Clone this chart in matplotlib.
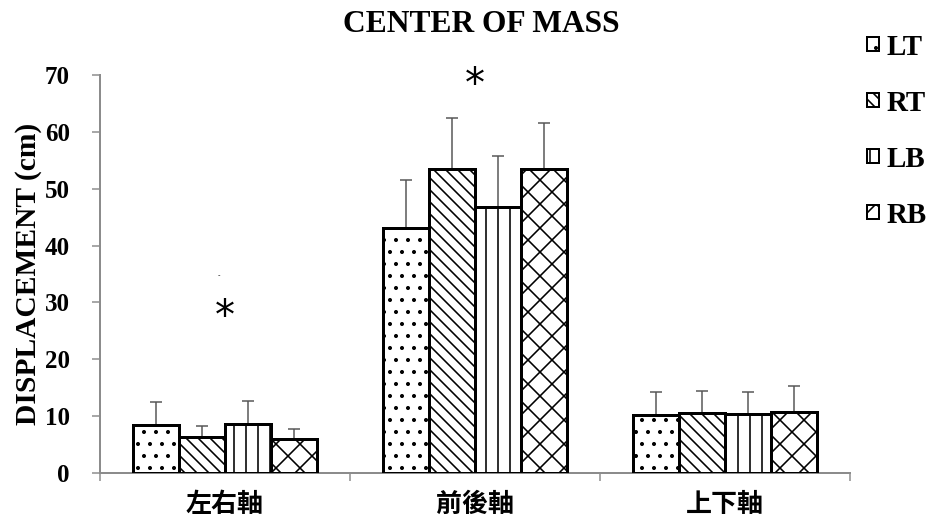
import matplotlib
matplotlib.use("Agg")
import matplotlib.pyplot as plt
import numpy as np
from matplotlib.patches import Patch

# mean displacement and SD per axis for each condition
categories = ["左右軸", "前後軸", "上下軸"]
series = ["LT", "RT", "LB", "RB"]
means = {
    "LT": [8.4, 43.1, 10.2],
    "RT": [6.3, 53.4, 10.6],
    "LB": [8.6, 46.7, 10.4],
    "RB": [6.0, 53.4, 10.8],
}
errors = {
    "LT": [4.1, 8.5, 4.0],
    "RT": [2.0, 9.0, 3.9],
    "LB": [4.1, 9.0, 3.8],
    "RB": [1.7, 8.1, 4.5],
}
hatches = {"LT": ".", "RT": "\\\\", "LB": "|", "RB": "x"}
# significance markers: (category index, y)
stars = [(0, 27.2), (1, 68.0)]

# 72 dpi so one point is one pixel; keeps the hatch patterns fine
DPI = 72
plt.rcParams["hatch.linewidth"] = 1.6
serif = ["Liberation Serif", "DejaVu Serif"]
cjk = ["Noto Sans CJK TC", "DejaVu Sans"]
grey = "#8c8c8c"

fig = plt.figure(figsize=(938 / DPI, 520 / DPI), dpi=DPI)
ax = fig.add_axes([0.1066, 0.0904, 0.7995, 0.7654])

x = np.arange(len(categories))
width = 0.184
for i, s in enumerate(series):
    pos = x + (i - 1.5) * width
    ax.bar(pos, means[s], width, color="white", edgecolor="black",
           linewidth=3, hatch=hatches[s], zorder=3)
    ax.errorbar(pos, means[s], yerr=[np.zeros(3), errors[s]], fmt="none",
                ecolor="#555555", elinewidth=1.5, capsize=6, capthick=1.5,
                zorder=2)

for ci, y in stars:
    ax.text(ci, y, "*", ha="center", va="center", fontsize=40,
            family="DejaVu Sans")
# small stray tick above the first marker
ax.text(-0.024, 34.8, "-", ha="center", va="center", fontsize=7)

ax.set_xlim(-0.5, 2.5)
ax.set_ylim(0, 70)
ax.set_yticks(range(0, 71, 10))
ax.set_xticks(x)
ax.set_xticklabels(categories, family=cjk, fontweight="bold", fontsize=26)
ax.set_xticks([-0.5, 0.5, 1.5, 2.5], minor=True)
ax.tick_params(axis="x", which="major", length=0, pad=18)
ax.tick_params(axis="x", which="minor", length=8, width=1.5, color=grey,
               direction="out")
ax.tick_params(axis="y", length=8, width=1.5, color=grey, direction="out",
               pad=22)
for lab in ax.get_yticklabels():
    lab.set_family(serif)
    lab.set_fontweight("bold")
    lab.set_fontsize(25)

for side in ("top", "right"):
    ax.spines[side].set_visible(False)
for side in ("left", "bottom"):
    ax.spines[side].set_color(grey)
    ax.spines[side].set_linewidth(2)

ax.set_ylabel("DISPLACEMENT (cm)", family=serif, fontweight="bold",
              fontsize=29.5, labelpad=3)
fig.text(0.513, 0.952, "CENTER OF MASS", ha="center", va="center",
         family=serif, fontweight="bold", fontsize=31.5)

handles = [Patch(facecolor="white", edgecolor="black", linewidth=2,
                 hatch=hatches[s], label=s) for s in series]
fig.legend(handles=handles, loc="upper left", bbox_to_anchor=(0.924, 0.935),
           frameon=False, handlelength=0.42, handleheight=0.36,
           handletextpad=0.25, labelspacing=1.0, borderpad=0,
           borderaxespad=0,
           prop={"family": serif, "weight": "bold", "size": 29})

fig.savefig("out.png", dpi=DPI)
